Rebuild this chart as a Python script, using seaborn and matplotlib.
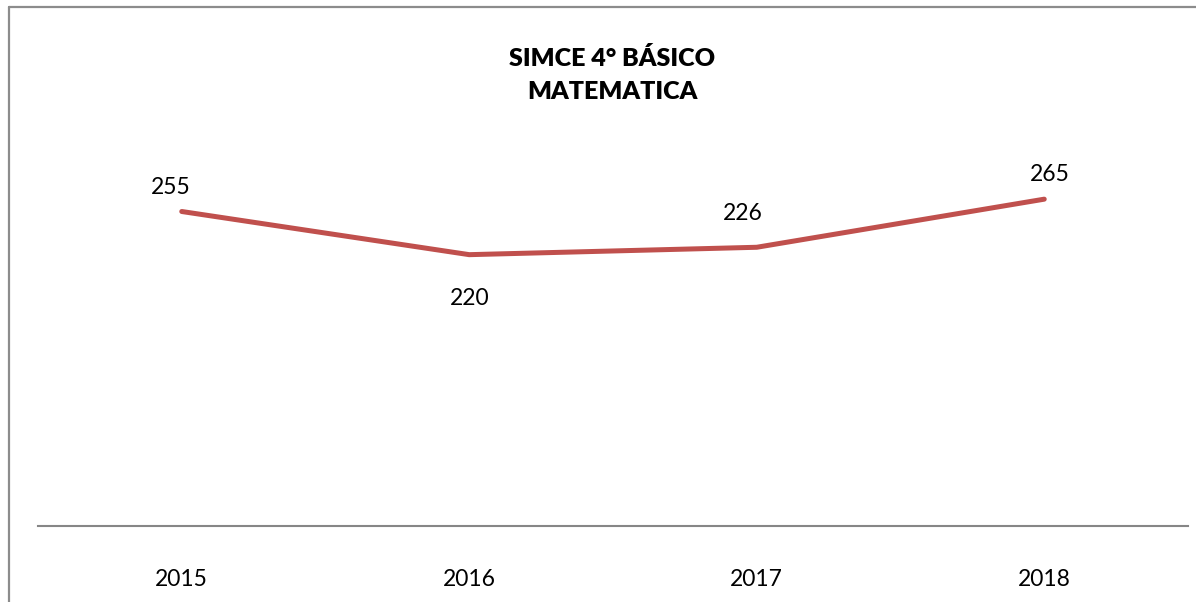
import pandas as pd
import seaborn as sns
import matplotlib.pyplot as plt
from matplotlib.lines import Line2D

# Datos del gráfico
anios = ['2015', '2016', '2017', '2018']
puntajes = [255, 220, 226, 265]
titulo = 'SIMCE 4° BÁSICO\nMATEMATICA'

df = pd.DataFrame({'anio': anios, 'puntaje': puntajes})

sns.set_style('white')
plt.rcParams['font.family'] = ['Lato', 'DejaVu Sans']

fig = plt.figure(figsize=(11.96, 6.02), dpi=100)
ax = fig.add_axes([38 / 1196, 76 / 602, 1150 / 1196, 370 / 602])

sns.lineplot(data=df, x='anio', y='puntaje', ax=ax, color='#C0504D',
             linewidth=3.6, solid_capstyle='round', sort=False)

ax.set_xlim(-0.5, 3.5)
ax.set_ylim(0, 300)
ax.set_xlabel('')
ax.set_ylabel('')
ax.set_yticks([])
ax.tick_params(axis='x', length=0, pad=31, labelsize=16.5, labelcolor='black')
for s in ['top', 'right', 'left']:
    ax.spines[s].set_visible(False)
ax.spines['bottom'].set_color('#868686')
ax.spines['bottom'].set_linewidth(1.5)

# Etiquetas de datos (arriba / abajo)
offsets = [(-8, 10), (0, -39), (-10, 17), (4, 10)]
for i, (v, off) in enumerate(zip(puntajes, offsets)):
    ax.annotate(str(v), (i, v), xytext=off, textcoords='offset points',
                ha='center', va='bottom', fontsize=16.5, color='black')

fig.text(612 / 1196, 1 - 75 / 602, titulo, ha='center', va='center',
         fontsize=18, fontweight='heavy', linespacing=1.65, color='black')

# Borde del área del gráfico (solo izquierda y arriba visibles)
fig.add_artist(Line2D([9 / 1196, 9 / 1196], [0, 1 - 7 / 602],
                      transform=fig.transFigure, color='#8c8c8c', linewidth=1.6))
fig.add_artist(Line2D([9 / 1196, 1], [1 - 7 / 602, 1 - 7 / 602],
                      transform=fig.transFigure, color='#8c8c8c', linewidth=1.6))

fig.savefig('out.png', dpi=100)
